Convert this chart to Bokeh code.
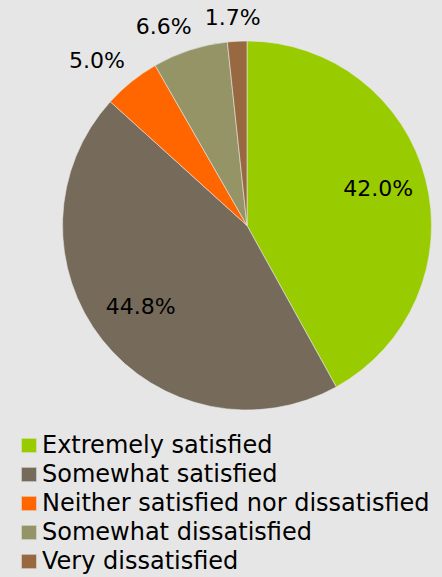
import math
from bokeh.plotting import figure
from bokeh.models import ColumnDataSource, Legend, LegendItem, Range1d
from bokeh.embed import file_html
from bokeh.resources import INLINE
from bokeh.core.properties import value

categories = [
    "Extremely satisfied",
    "Somewhat satisfied",
    "Neither satisfied nor dissatisfied",
    "Somewhat dissatisfied",
    "Very dissatisfied",
]
percents = [42.0, 44.8, 5.0, 6.6, 1.7]
labels = ["42.0%", "44.8%", "5.0%", "6.6%", "1.7%"]
colors = ["#99CC00", "#766B5B", "#FF6600", "#949466", "#986940"]

BG = "#E6E6E6"
FONT = "DejaVu Sans"
W, H = 442, 577
CX, CY, R = 246.5, 352.0, 184.5

total = sum(percents)
starts, ends, lx, ly = [], [], [], []
acc = 0.0
for v in percents:
    t0 = 2 * math.pi * acc / total
    acc += v
    t1 = 2 * math.pi * acc / total
    starts.append(math.pi / 2 - t0)
    ends.append(math.pi / 2 - t1)
    t = (t0 + t1) / 2
    s, c = math.sin(t), math.cos(t)
    if v >= 20:
        r = 0.735 * R
        lx.append(CX + r * s)
        ly.append(CY + r * c)
    else:
        r = R + 10
        clip = lambda q: max(-1.0, min(1.0, q))
        lx.append(CX + r * s + 28 * clip(2.7 * s))
        ly.append(CY + r * c + 11 * clip(2.7 * c))

src = ColumnDataSource(dict(cat=categories, pct=percents, start=starts, end=ends,
                            color=colors))
lsrc = ColumnDataSource(dict(x=lx, y=ly, text=labels))

p = figure(width=W, height=H, output_backend="svg", toolbar_location=None,
           x_range=Range1d(0, W), y_range=Range1d(0, H), min_border=0,
           background_fill_color=BG, border_fill_color=BG, outline_line_color=None)
p.axis.visible = False
p.grid.visible = False

wr = p.wedge(x=CX, y=CY, radius=R, start_angle="start", end_angle="end",
             direction="clock", fill_color="color", line_color=BG, line_width=0.6,
             source=src)

p.text(x="x", y="y", text="text", source=lsrc, text_font=value(FONT),
       text_font_size="22px", text_color="#000000", text_align="center",
       text_baseline="middle", y_offset=-3)

items = [LegendItem(label=categories[i], renderers=[wr], index=i) for i in range(len(categories))]
legend = Legend(items=items, location=(19, 2), padding=0, margin=0, spacing=1,
                glyph_width=19, glyph_height=18, label_height=18, label_standoff=4,
                label_text_font=FONT, label_text_font_size="24px",
                label_text_color="#000000", border_line_color=None,
                background_fill_alpha=0)
p.add_layout(legend, "center")

html = file_html(p, INLINE)
html = html.replace("<head>", "<head><style>html,body{background:%s}</style>" % BG, 1)
open("out.html", "w").write(html)
